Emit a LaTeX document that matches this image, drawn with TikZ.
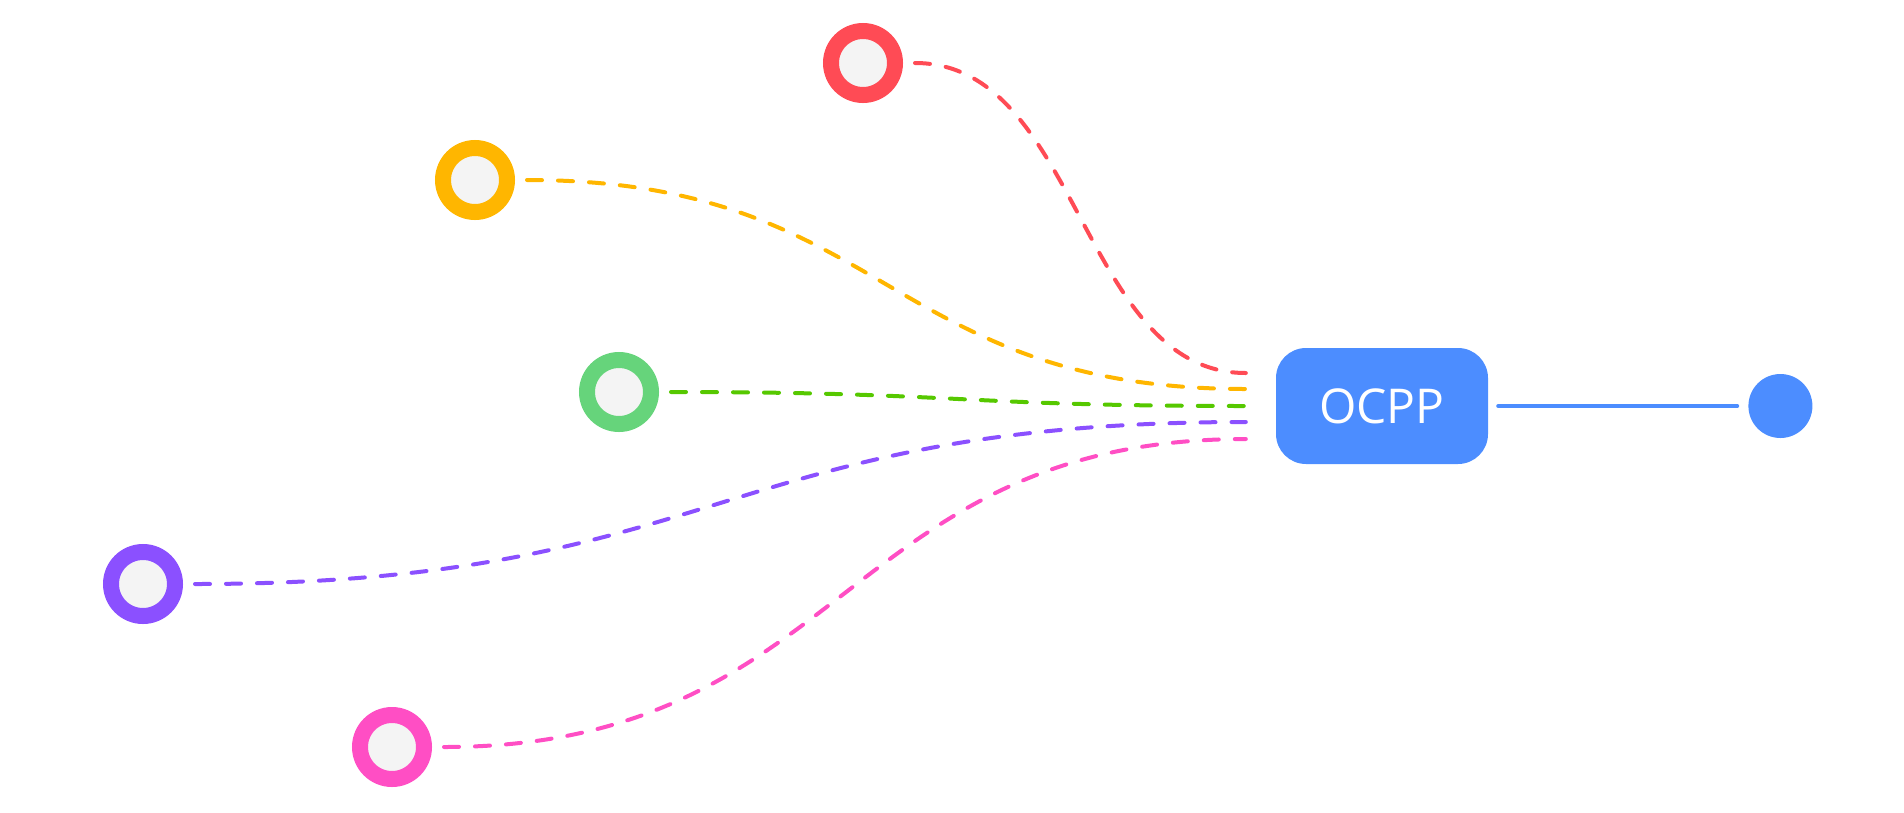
\documentclass[tikz,border=0pt]{standalone}
\usepackage{fontspec}
\setmainfont{Open Sans}
\usetikzlibrary{positioning}
\definecolor{cRed}{HTML}{FF4B55}
\definecolor{cOrange}{HTML}{FFB600}
\definecolor{cGreenRing}{HTML}{66D47B}
\definecolor{cGreen}{HTML}{56C800}
\definecolor{cPurple}{HTML}{8B50FF}
\definecolor{cPink}{HTML}{FF4EC4}
\definecolor{cBlue}{HTML}{4C8DFF}
\definecolor{cInner}{HTML}{F4F4F4}

\begin{document}
\begin{tikzpicture}[x=1pt, y=-1pt,
	Ring/.style = {circle, draw=#1, line width=16pt, fill=cInner, inner sep=0pt,
		minimum size=64pt, outer sep=20pt},
	Link/.style = {draw=#1, line width=4pt, line cap=round, dash pattern=on 15pt off 16pt},
	Box/.style  = {fill=cBlue, text=white, rounded corners=30pt, minimum width=212pt,
		minimum height=116pt, font=\fontsize{48}{48}\selectfont},
	Dot/.style  = {circle, fill=cBlue, inner sep=0pt, minimum size=64pt},
	Wire/.style = {draw=cBlue, line width=4pt, line cap=round, shorten <=10pt, shorten >=11pt}
]
\useasboundingbox (0,0) rectangle (1904,812);
\node[Ring=cRed]       (red)    at (863,63)  {};
\node[Ring=cOrange]    (orange) at (475,180) {};
\node[Ring=cGreenRing] (green)  at (619,392) {};
\node[Ring=cPurple]    (purple) at (143,584) {};
\node[Ring=cPink]      (pink)   at (392,747) {};

\node[Box] (ocpp) at (1382,406) {OCPP};
\node[Dot, right=260pt of ocpp] (hub) {};

\coordinate[left=30pt of ocpp.west, yshift=33pt]  (eRed);
\coordinate[left=30pt of ocpp.west, yshift=17pt]  (eOrange);
\coordinate[left=30pt of ocpp.west]               (eGreen);
\coordinate[left=30pt of ocpp.west, yshift=-16pt] (ePurple);
\coordinate[left=30pt of ocpp.west, yshift=-33pt] (ePink);

\draw[Link=cRed]    (red.east)    .. controls +(165,0) and +(-165,0) .. (eRed);
\draw[Link=cOrange] (orange.east) .. controls +(360,0) and +(-360,0) .. (eOrange);
\draw[Link=cGreen]  (green.east)  .. controls +(288,0) and +(-288,0) .. (eGreen);
\draw[Link=cPurple] (purple.east) .. controls +(525,0) and +(-525,0) .. (ePurple);
\draw[Link=cPink]   (pink.east)   .. controls +(401,0) and +(-401,0) .. (ePink);

\draw[Wire] (ocpp) -- (hub);
\end{tikzpicture}
\end{document}
